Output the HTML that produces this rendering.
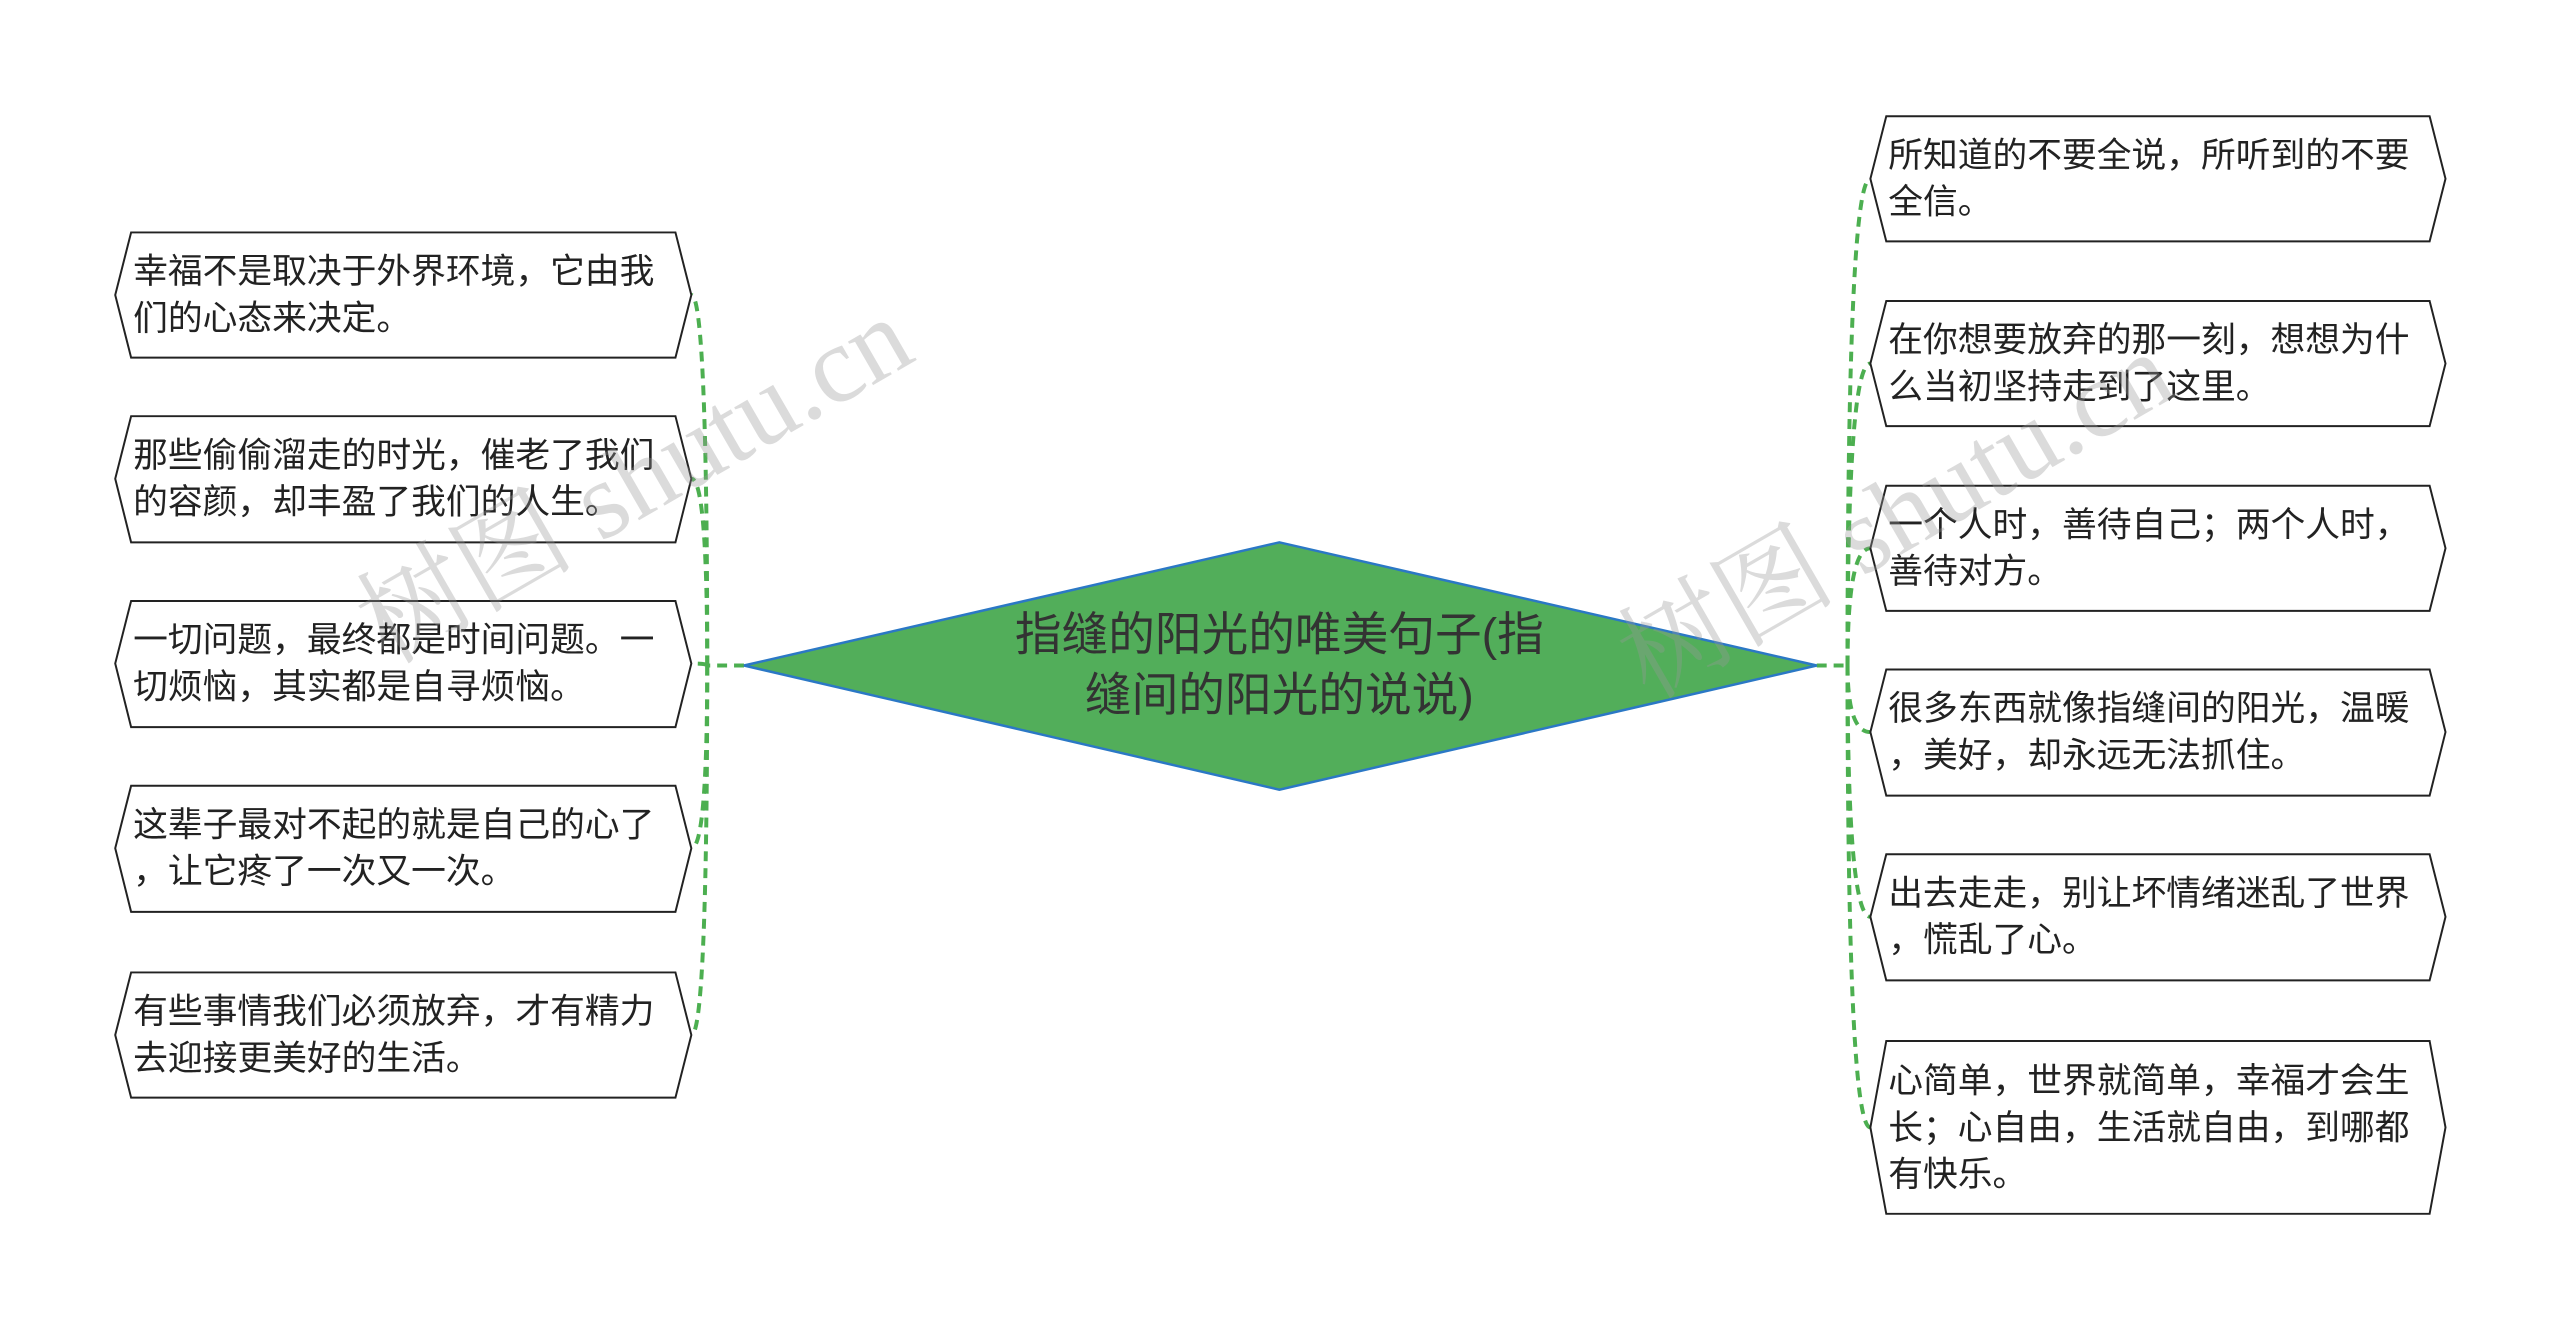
<!DOCTYPE html>
<html><head><meta charset="utf-8"><style>
html,body{margin:0;padding:0;background:#fff;}
svg{display:block;}
text{font-family:"Liberation Sans","Noto Sans CJK SC",sans-serif;fill:#222;}
.wm{font-family:"Liberation Serif","Noto Serif CJK SC",serif;fill:#999;opacity:0.35;}
</style></head><body>
<svg width="2560" height="1330" viewBox="0 0 2560 1330" xmlns="http://www.w3.org/2000/svg">
<g transform="scale(0.9933)">
<g fill="none" stroke="#4caf50" stroke-width="4" stroke-dasharray="10,7">
<path d="M749,670 H712"/>
<path d="M712,670 Q712,297 696,297"/>
<path d="M712,670 Q712,482 696,482"/>
<path d="M712,670 Q712,668 696,668"/>
<path d="M712,670 Q712,854 696,854"/>
<path d="M712,670 Q712,1042 696,1042"/>
<path d="M1829,670 H1860"/>
<path d="M1860,670 Q1860,180 1883,180"/>
<path d="M1860,670 Q1860,366 1883,366"/>
<path d="M1860,670 Q1860,552 1883,552"/>
<path d="M1860,670 Q1860,737 1883,737"/>
<path d="M1860,670 Q1860,923 1883,923"/>
<path d="M1860,670 Q1860,1135 1883,1135"/>
</g>
<polygon points="749,670 1288,546 1829,670 1288,795" fill="#52ae5a" stroke="#2b78c5" stroke-width="2.5"/>
<text x="1288" y="655" font-size="47" text-anchor="middle" style="fill:#333">指缝的阳光的唯美句子(指</text>
<text x="1288" y="716" font-size="47" text-anchor="middle" style="fill:#333">缝间的阳光的说说)</text>
<g fill="#fff" stroke="#222" stroke-width="2">
<polygon points="132,234 680,234 696,297 680,360 132,360 116,297"/>
<polygon points="132,419 680,419 696,482 680,546 132,546 116,482"/>
<polygon points="132,605 680,605 696,668 680,732 132,732 116,668"/>
<polygon points="132,791 680,791 696,854 680,918 132,918 116,854"/>
<polygon points="132,979 680,979 696,1042 680,1105 132,1105 116,1042"/>
<polygon points="1899,117 2446,117 2462,180 2446,243 1899,243 1883,180"/>
<polygon points="1899,303 2446,303 2462,366 2446,429 1899,429 1883,366"/>
<polygon points="1899,489 2446,489 2462,552 2446,615 1899,615 1883,552"/>
<polygon points="1899,674 2446,674 2462,737 2446,801 1899,801 1883,737"/>
<polygon points="1899,860 2446,860 2462,923 2446,987 1899,987 1883,923"/>
<polygon points="1899,1048 2446,1048 2462,1135 2446,1222 1899,1222 1883,1135"/>
</g>
<g font-size="35">
<text x="134" y="285">幸福不是取决于外界环境，它由我</text>
<text x="134" y="332">们的心态来决定。</text>
<text x="134" y="470">那些偷偷溜走的时光，催老了我们</text>
<text x="134" y="517">的容颜，却丰盈了我们的人生。</text>
<text x="134" y="656">一切问题，最终都是时间问题。一</text>
<text x="134" y="703">切烦恼，其实都是自寻烦恼。</text>
<text x="134" y="842">这辈子最对不起的就是自己的心了</text>
<text x="134" y="889">，让它疼了一次又一次。</text>
<text x="134" y="1030">有些事情我们必须放弃，才有精力</text>
<text x="134" y="1077">去迎接更美好的生活。</text>
<text x="1901" y="168">所知道的不要全说，所听到的不要</text>
<text x="1901" y="215">全信。</text>
<text x="1901" y="354">在你想要放弃的那一刻，想想为什</text>
<text x="1901" y="401">么当初坚持走到了这里。</text>
<text x="1901" y="540">一个人时，善待自己；两个人时，</text>
<text x="1901" y="587">善待对方。</text>
<text x="1901" y="725">很多东西就像指缝间的阳光，温暖</text>
<text x="1901" y="772">，美好，却永远无法抓住。</text>
<text x="1901" y="911">出去走走，别让坏情绪迷乱了世界</text>
<text x="1901" y="958">，慌乱了心。</text>
<text x="1901" y="1100">心简单，世界就简单，幸福才会生</text>
<text x="1901" y="1147">长；心自由，生活就自由，到哪都</text>
<text x="1901" y="1194">有快乐。</text>
</g>
<text class="wm" x="390" y="670" font-size="110" transform="rotate(-30 390 670)">树图 shutu.cn</text>
<text class="wm" x="1660" y="705" font-size="110" transform="rotate(-30 1660 705)">树图 shutu.cn</text>
</g>
</svg>
</body></html>
